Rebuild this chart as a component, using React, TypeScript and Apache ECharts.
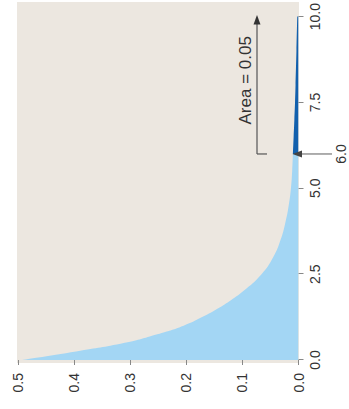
import React, { useEffect, useRef } from "react";
import * as echarts from "echarts";

// x values (statistic) and density
const bodyX = [0, 0.25, 0.5, 0.75, 1, 1.25, 1.5, 1.75, 2, 2.5, 3, 3.5, 4, 4.5, 5, 5.5, 6];
const bodyDensity = [0.495, 0.397, 0.31, 0.252, 0.205, 0.172, 0.144, 0.12, 0.099, 0.066, 0.045, 0.032, 0.0235, 0.0175, 0.0135, 0.0113, 0.01];
const tailX = [6, 6.5, 7, 7.5, 8, 9, 10];
const tailDensity = [0.01, 0.0087, 0.0074, 0.0062, 0.0053, 0.0037, 0.0022];
const criticalValue = 6.0;
const criticalLabel = "6.0";
const areaLabel = "Area = 0.05";
const xTicks = { min: 0, max: 10, interval: 2.5 };
const yTicks = { min: 0, max: 0.5, interval: 0.1 };

const W = 409;
const H = 349;
const FONT = "'Liberation Sans', Arial, Helvetica, sans-serif";

export default function App() {
  const ref = useRef<HTMLDivElement>(null);
  useEffect(() => {
    if (!ref.current) return;
    const chart = echarts.init(ref.current, null, { renderer: "svg", width: W, height: H });
    const pairs = (xs: number[], ys: number[]) => xs.map((x, i) => [x, ys[i]]);
    chart.setOption({
      animation: false,
      textStyle: { fontFamily: FONT },
      grid: { left: 49, right: 10, top: 18.3, bottom: 50.5 },
      xAxis: {
        type: "value",
        min: xTicks.min,
        max: xTicks.max,
        interval: xTicks.interval,
        offset: 1.5,
        axisLine: { show: false },
        splitLine: { show: false },
        axisTick: { show: true, length: 5, lineStyle: { color: "#888", width: 1 } },
        axisLabel: {
          margin: 8,
          fontSize: 14,
          color: "#333",
          fontFamily: FONT,
          formatter: (v: number) => v.toFixed(1),
        },
      },
      yAxis: {
        type: "value",
        min: yTicks.min,
        max: yTicks.max,
        interval: yTicks.interval,
        offset: 3,
        axisLine: { show: false },
        splitLine: { show: false },
        axisTick: { show: true, length: 5, lineStyle: { color: "#888", width: 1 } },
        axisLabel: {
          margin: 10,
          fontSize: 14,
          color: "#333",
          fontFamily: FONT,
          formatter: (v: number) => v.toFixed(1),
        },
      },
      series: [
        {
          type: "line",
          data: pairs(bodyX, bodyDensity),
          showSymbol: false,
          smooth: 0.5,
          lineStyle: { width: 0 },
          areaStyle: { color: "#a3d6f4", opacity: 1 },
          silent: true,
        },
        {
          type: "line",
          data: pairs(tailX, tailDensity),
          showSymbol: false,
          smooth: 0.5,
          lineStyle: { width: 0 },
          areaStyle: { color: "#1260ad", opacity: 1 },
          silent: true,
        },
      ],
    });

    const p6 = chart.convertToPixel({ gridIndex: 0 }, [criticalValue, 0]) as number[];
    const pTop = chart.convertToPixel({ gridIndex: 0 }, [xTicks.max, 0]) as number[];
    const u6 = p6[0];
    const uTop = pTop[0];
    const bracketV = 257;
    chart.setOption({
      graphic: [
        {
          type: "rect",
          z: -10,
          silent: true,
          shape: { x: 46, y: 17, width: 361, height: 282 },
          style: { fill: "#ece7e0" },
        },
        // critical value arrow
        {
          type: "line",
          z: 10,
          shape: { x1: u6, y1: 332, x2: u6, y2: 300 },
          style: { stroke: "#777", lineWidth: 1.2 },
        },
        {
          type: "polygon",
          z: 10,
          shape: { points: [[u6, 292.5], [u6 - 3.5, 302], [u6 + 3.5, 302]] },
          style: { fill: "#444" },
        },
        {
          type: "text",
          z: 10,
          x: u6,
          y: 341,
          style: { text: criticalLabel, fontSize: 14, fill: "#333", align: "center", verticalAlign: "middle", fontFamily: FONT },
        },
        // area bracket
        {
          type: "line",
          z: 10,
          shape: { x1: u6, y1: bracketV, x2: uTop - 7, y2: bracketV },
          style: { stroke: "#555", lineWidth: 1.2 },
        },
        {
          type: "line",
          z: 10,
          shape: { x1: u6, y1: bracketV, x2: u6, y2: bracketV + 10 },
          style: { stroke: "#555", lineWidth: 1.2 },
        },
        {
          type: "polygon",
          z: 10,
          shape: { points: [[uTop + 1.7, bracketV], [uTop - 8, bracketV - 3.5], [uTop - 8, bracketV + 3.5]] },
          style: { fill: "#333" },
        },
        {
          type: "text",
          z: 10,
          x: (u6 + uTop) / 2 + 5,
          y: 245,
          style: { text: areaLabel, fontSize: 17, fill: "#333", align: "center", verticalAlign: "middle", fontFamily: FONT },
        },
      ],
    });
    return () => chart.dispose();
  }, []);

  return (
    <div style={{ position: "fixed", left: 0, top: 0, width: 349, height: 409, overflow: "hidden", background: "#fff" }}>
      <div
        ref={ref}
        style={{
          position: "absolute",
          width: W,
          height: H,
          left: (349 - W) / 2,
          top: (409 - H) / 2,
          transform: "rotate(-90deg)",
          transformOrigin: "50% 50%",
        }}
      />
    </div>
  );
}
